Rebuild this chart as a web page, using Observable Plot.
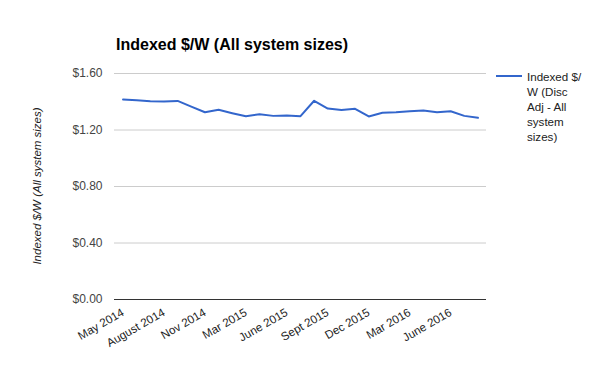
<!DOCTYPE html>
<html>
<head>
<meta charset="utf-8">
<script src="https://cdn.jsdelivr.net/npm/d3@7"></script>
<script src="https://cdn.jsdelivr.net/npm/@observablehq/plot@0.6"></script>
<style>
  html, body { margin: 0; padding: 0; background: #fff; }
  #wrap { position: relative; width: 600px; height: 371px; font-family: Arial, "Liberation Sans", sans-serif; }
  #title { position: absolute; left: 116px; top: 37px; font-size: 16px; font-weight: bold; line-height: 16px; color: #000; white-space: nowrap; }
  #ytitle { position: absolute; left: 37px; top: 186px; font-size: 11.5px; font-style: italic; color: #222; white-space: nowrap; transform: translate(-50%, -50%) rotate(-90deg); line-height: 14px; }
  #legend { position: absolute; left: 496px; top: 69px; }
  #legend .sw { position: absolute; left: 0; top: 6px; width: 26px; height: 2px; background: #3366cc; }
  #legend .tx { position: absolute; left: 31px; top: 0; font-size: 11.6px; line-height: 15px; color: #222; white-space: nowrap; }
  svg { position: absolute; left: 0; top: 0; }
</style>
</head>
<body>
<div id="wrap">
  <div id="chart"></div>
  <div id="title">Indexed $/W (All system sizes)</div>
  <div id="ytitle">Indexed $/W (All system sizes)</div>
  <div id="legend"><div class="sw"></div><div class="tx">Indexed $/<br>W (Disc<br>Adj - All<br>system<br>sizes)</div></div>
</div>
<script>
const months = [
  "May 2014", "June 2014", "July 2014", "August 2014", "Sept 2014", "Oct 2014",
  "Nov 2014", "Dec 2014", "Feb 2015", "Mar 2015", "Apr 2015", "May 2015",
  "June 2015", "July 2015", "Aug 2015", "Sept 2015", "Oct 2015", "Nov 2015",
  "Dec 2015", "Jan 2016", "Feb 2016", "Mar 2016", "Apr 2016", "May 2016",
  "June 2016", "July 2016", "Aug 2016"
];
const values = [
  1.416, 1.411, 1.404, 1.401, 1.406, 1.366,
  1.326, 1.343, 1.319, 1.297, 1.312, 1.300,
  1.303, 1.298, 1.407, 1.352, 1.341, 1.350,
  1.296, 1.322, 1.326, 1.333, 1.338, 1.326,
  1.333, 1.300, 1.286
];
const xTickLabels = ["May 2014", "August 2014", "Nov 2014", "Mar 2015", "June 2015", "Sept 2015", "Dec 2015", "Mar 2016", "June 2016"];
const yTicks = [0, 0.4, 0.8, 1.2, 1.6];

const data = months.map((m, i) => ({month: m, value: values[i]}));

const chart = Plot.plot({
  width: 600,
  height: 371,
  marginLeft: 114,
  marginRight: 114,
  marginTop: 73,
  marginBottom: 72,
  style: {fontFamily: 'Arial, "Liberation Sans", sans-serif', background: "transparent"},
  x: {type: "point", domain: months, padding: 0.625, round: false},
  y: {domain: [0, 1.6]},
  marks: [
    Plot.ruleY(yTicks.filter(d => d > 0), {stroke: "#cccccc", strokeWidth: 1}),
    Plot.ruleY([0], {stroke: "#333333", strokeWidth: 1}),
    Plot.axisY({ticks: yTicks, tickFormat: d => "$" + d.toFixed(2), tickSize: 0, tickPadding: 12, fontSize: 12, color: "#444", label: null}),
    Plot.axisX({ticks: xTickLabels, tickSize: 0, tickPadding: 12, tickRotate: -30, fontSize: 11.6, color: "#222", label: null}),
    Plot.line(data, {x: "month", y: "value", stroke: "#3366cc", strokeWidth: 2})
  ]
});
document.getElementById("chart").appendChild(chart);
</script>
</body>
</html>
